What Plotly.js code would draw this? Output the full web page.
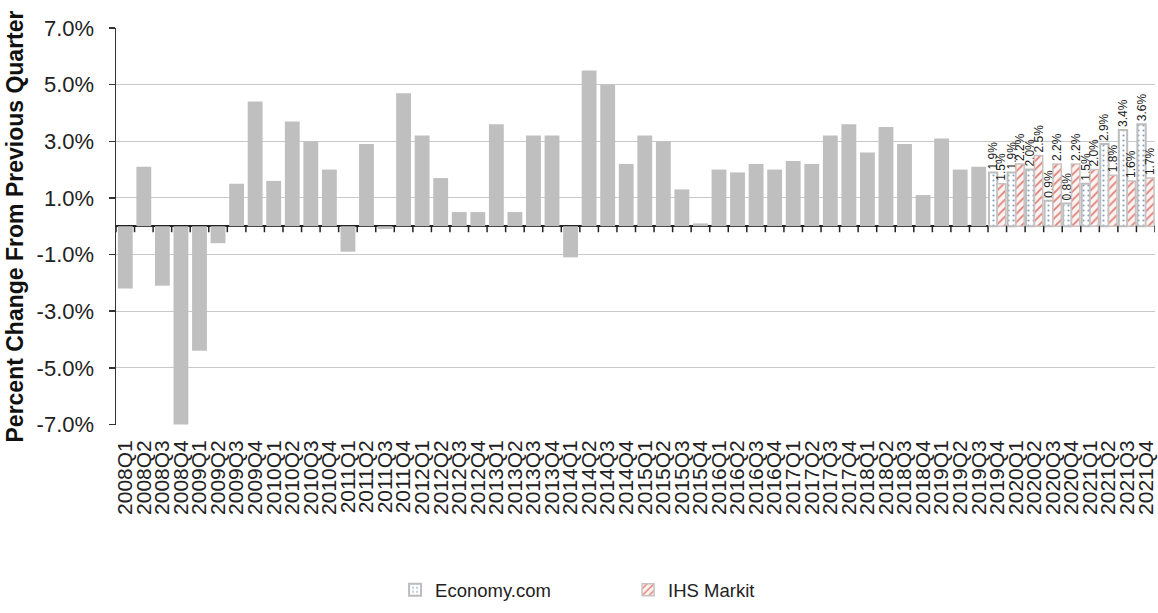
<!DOCTYPE html>
<html>
<head>
<meta charset="utf-8">
<script src="https://cdn.plot.ly/plotly-3.0.1.min.js"></script>
<style>
html,body{margin:0;padding:0;background:#fff;}
#chart{width:1158px;height:613px;}
</style>
</head>
<body>
<div id="chart"></div>
<script>
const quarters = [
 "2008Q1","2008Q2","2008Q3","2008Q4","2009Q1","2009Q2","2009Q3","2009Q4",
 "2010Q1","2010Q2","2010Q3","2010Q4","2011Q1","2011Q2","2011Q3","2011Q4",
 "2012Q1","2012Q2","2012Q3","2012Q4","2013Q1","2013Q2","2013Q3","2013Q4",
 "2014Q1","2014Q2","2014Q3","2014Q4","2015Q1","2015Q2","2015Q3","2015Q4",
 "2016Q1","2016Q2","2016Q3","2016Q4","2017Q1","2017Q2","2017Q3","2017Q4",
 "2018Q1","2018Q2","2018Q3","2018Q4","2019Q1","2019Q2","2019Q3","2019Q4",
 "2020Q1","2020Q2","2020Q3","2020Q4","2021Q1","2021Q2","2021Q3","2021Q4"
];
const historyQuarters = quarters.slice(0, 47);
const historyValues = [
 -2.2, 2.1, -2.1, -7.0, -4.4, -0.6, 1.5, 4.4,
 1.6, 3.7, 3.0, 2.0, -0.9, 2.9, -0.1, 4.7,
 3.2, 1.7, 0.5, 0.5, 3.6, 0.5, 3.2, 3.2,
 -1.1, 5.5, 5.0, 2.2, 3.2, 3.0, 1.3, 0.1,
 2.0, 1.9, 2.2, 2.0, 2.3, 2.2, 3.2, 3.6,
 2.6, 3.5, 2.9, 1.1, 3.1, 2.0, 2.1
];
const forecastQuarters = quarters.slice(47);
const economyValues = [1.9, 1.9, 2.0, 0.9, 0.8, 1.5, 2.9, 3.4, 3.6];
const ihsValues     = [1.5, 2.2, 2.5, 2.2, 2.2, 2.0, 1.8, 1.6, 1.7];
const yTickVals = [-7, -5, -3, -1, 1, 3, 5, 7];
const yTickText = ["-7.0%", "-5.0%", "-3.0%", "-1.0%", "1.0%", "3.0%", "5.0%", "7.0%"];

const labelFont = {family: "Liberation Sans Narrow, Arial Narrow, Liberation Sans, Arial", size: 12, color: "#222"};

const traces = [
 {
  type: "bar", name: "History", x: historyQuarters, y: historyValues,
  width: 0.8, marker: {color: "#bfbfbf", line: {width: 0}},
  showlegend: false, hoverinfo: "x+y"
 },
 {
  type: "bar", name: "Economy.com", x: forecastQuarters, y: economyValues,
  width: 0.45, offset: -0.45,
  marker: {color: "#ffffff", line: {color: "#bdbdbd", width: 2},
           pattern: {shape: ".", fgcolor: "#7f9fc0", bgcolor: "#ffffff", size: 5, solidity: 0.15}},
  text: economyValues.map(v => v.toFixed(1) + "%"), textposition: "outside",
  textangle: -90, textfont: labelFont, constraintext: "none", cliponaxis: false
 },
 {
  type: "bar", name: "IHS Markit", x: forecastQuarters, y: ihsValues,
  width: 0.45, offset: 0,
  marker: {color: "#ffffff", line: {color: "#c9c2c2", width: 1.5},
           pattern: {shape: "/", fgcolor: "#e07f74", bgcolor: "#fdf3f2", size: 6, solidity: 0.3}},
  text: ihsValues.map(v => v.toFixed(1) + "%"), textposition: "outside",
  textangle: -90, textfont: labelFont, constraintext: "none", cliponaxis: false
 }
];

// tick marks on the zero line at category boundaries (axis decoration)
const tickShapes = [];
for (let i = 0; i <= quarters.length; i++) {
 tickShapes.push({
  type: "line", xref: "x", yref: "y", x0: i - 0.5, x1: i - 0.5,
  ysizemode: "pixel", yanchor: 0, y0: 0, y1: -6,
  line: {color: "#222", width: 1.5}
 });
}

const layout = {
 width: 1158, height: 613,
 margin: {l: 116, r: 3, t: 28, b: 188},
 paper_bgcolor: "#ffffff", plot_bgcolor: "#ffffff",
 barmode: "overlay",
 font: {family: "Liberation Sans, Arial, sans-serif", color: "#222"},
 showlegend: true,
 legend: {
  orientation: "h", x: 0.2686, xanchor: "left", y: -0.416, yanchor: "middle",
  font: {size: 18.5, color: "#222"}, entrywidth: 188, entrywidthmode: "pixels",
  itemwidth: 30, bgcolor: "rgba(0,0,0,0)"
 },
 shapes: tickShapes,
 xaxis: {
  type: "category", categoryorder: "array", categoryarray: quarters,
  range: [-0.5, 55.5], tickmode: "array", tickvals: quarters, ticktext: quarters,
  tickangle: -90, tickfont: {size: 21, color: "#222"}, ticks: "",
  showgrid: false, zeroline: false, showline: false, ticklabelstandoff: 10,
  automargin: false
 },
 yaxis: {
  range: [-7.02, 7], tickmode: "array", tickvals: yTickVals, ticktext: yTickText,
  tickfont: {size: 22, color: "#222"}, ticks: "outside", ticklen: 6, tickwidth: 1.5,
  tickcolor: "#333", showline: true, linecolor: "#333", linewidth: 1.5,
  showgrid: true, gridcolor: "#c8c8c8", gridwidth: 1,
  zeroline: true, zerolinecolor: "#222", zerolinewidth: 1.5,
  ticklabelstandoff: 10, automargin: true,
  title: {text: "Percent Change From Previous Quarter", font: {size: 23, color: "#111", weight: "bold"}, standoff: 6}
 }
};

Plotly.newPlot("chart", traces, layout, {displayModeBar: false, staticPlot: true});
</script>
</body>
</html>
